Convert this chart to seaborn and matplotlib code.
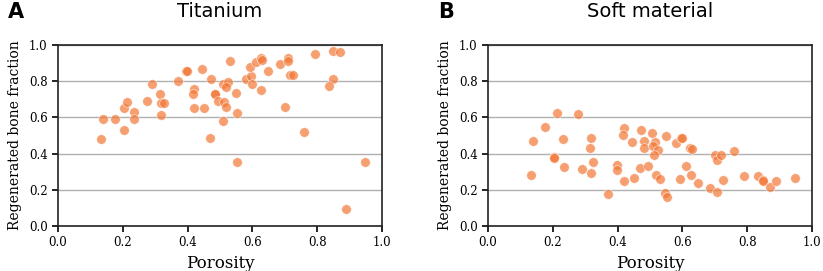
import numpy as np
import pandas as pd
import matplotlib.pyplot as plt
import seaborn as sns

# Titanium (panel A)
ti_porosity = [0.132, 0.138, 0.177, 0.205, 0.204, 0.212, 0.234, 0.235, 0.276, 0.289,
               0.316, 0.317, 0.326, 0.317, 0.370, 0.396, 0.397, 0.444, 0.421, 0.418,
               0.420, 0.451, 0.469, 0.473, 0.483, 0.485, 0.495, 0.508, 0.526, 0.517,
               0.512, 0.519, 0.508, 0.531, 0.548, 0.551, 0.552, 0.579, 0.596, 0.593,
               0.599, 0.611, 0.628, 0.631, 0.648, 0.625, 0.684, 0.709, 0.709, 0.717,
               0.724, 0.702, 0.758, 0.792, 0.848, 0.870, 0.849, 0.835, 0.889, 0.948]
ti_bone = [0.481, 0.591, 0.591, 0.532, 0.654, 0.687, 0.628, 0.591, 0.689, 0.785,
           0.731, 0.681, 0.681, 0.613, 0.801, 0.855, 0.858, 0.867, 0.755, 0.727,
           0.654, 0.650, 0.488, 0.812, 0.727, 0.727, 0.689, 0.786, 0.794, 0.766,
           0.683, 0.659, 0.578, 0.910, 0.733, 0.624, 0.354, 0.814, 0.827, 0.880,
           0.783, 0.908, 0.930, 0.917, 0.855, 0.751, 0.893, 0.930, 0.910, 0.834,
           0.832, 0.659, 0.517, 0.952, 0.965, 0.961, 0.810, 0.773, 0.094, 0.354]

# Soft material (panel B)
soft_porosity = [0.134, 0.138, 0.177, 0.212, 0.204, 0.205, 0.233, 0.236, 0.277, 0.289,
                 0.317, 0.316, 0.317, 0.325, 0.372, 0.397, 0.398, 0.419, 0.417, 0.420,
                 0.443, 0.451, 0.472, 0.483, 0.483, 0.468, 0.494, 0.505, 0.517, 0.510,
                 0.524, 0.513, 0.519, 0.530, 0.550, 0.546, 0.552, 0.579, 0.596, 0.598,
                 0.592, 0.610, 0.623, 0.630, 0.627, 0.647, 0.684, 0.700, 0.708, 0.718,
                 0.707, 0.724, 0.758, 0.790, 0.834, 0.848, 0.850, 0.869, 0.889, 0.948]
soft_bone = [0.280, 0.470, 0.545, 0.624, 0.381, 0.374, 0.479, 0.328, 0.617, 0.317,
             0.484, 0.431, 0.295, 0.352, 0.177, 0.337, 0.308, 0.543, 0.501, 0.250,
             0.464, 0.265, 0.529, 0.471, 0.431, 0.320, 0.331, 0.514, 0.466, 0.440,
             0.420, 0.390, 0.284, 0.258, 0.495, 0.180, 0.162, 0.460, 0.488, 0.488,
             0.258, 0.331, 0.431, 0.425, 0.280, 0.236, 0.212, 0.390, 0.366, 0.390,
             0.186, 0.252, 0.413, 0.276, 0.276, 0.254, 0.250, 0.214, 0.250, 0.267]

panels = [("A", "Titanium", ti_porosity, ti_bone),
          ("B", "Soft material", soft_porosity, soft_bone)]

sns.set_style("ticks")
plt.rcParams["font.family"] = "DejaVu Sans"
plt.rcParams["text.color"] = "black"
plt.rcParams["axes.labelcolor"] = "black"
plt.rcParams["xtick.color"] = "black"
plt.rcParams["ytick.color"] = "black"

fig, axes = plt.subplots(1, 2, figsize=(8.23, 2.71), dpi=100)
fig.subplots_adjust(left=0.0705, right=0.9866, bottom=0.166, top=0.834, wspace=0.327)

for ax, (letter, title, por, bone) in zip(axes, panels):
    df = pd.DataFrame({"Porosity": por, "Bone": bone})
    ax.yaxis.grid(True, color="#b0b0b0", linewidth=1.0, zorder=0)
    ax.set_axisbelow(True)
    sns.scatterplot(data=df, x="Porosity", y="Bone", ax=ax, color="#f37735",
                    alpha=0.7, s=48, edgecolor="white", linewidth=0.5, zorder=3)
    ax.set_xlim(0, 1)
    ax.set_ylim(0, 1)
    ax.set_xticks(np.arange(0, 1.01, 0.2))
    ax.set_yticks(np.arange(0, 1.01, 0.2))
    ax.set_xticklabels([f"{v:.1f}" for v in np.arange(0, 1.01, 0.2)],
                       family="DejaVu Serif", fontsize=8.5)
    ax.set_yticklabels([f"{v:.1f}" for v in np.arange(0, 1.01, 0.2)],
                       family="DejaVu Serif", fontsize=8.5)
    ax.set_xlabel("Porosity", family="DejaVu Serif", fontsize=12)
    ax.set_ylabel("Regenerated bone fraction", family="DejaVu Serif", fontsize=10,
                  labelpad=5)
    ax.set_title(title, fontsize=14, pad=20)
    for sp in ax.spines.values():
        sp.set_linewidth(1.2)
        sp.set_color("#222222")
    ax.tick_params(length=4, width=1.2)
    ax.text(-0.155, 1.18, letter, transform=ax.transAxes, fontsize=15,
            fontweight="bold", va="center", ha="left")

plt.savefig("out.png", dpi=100)
